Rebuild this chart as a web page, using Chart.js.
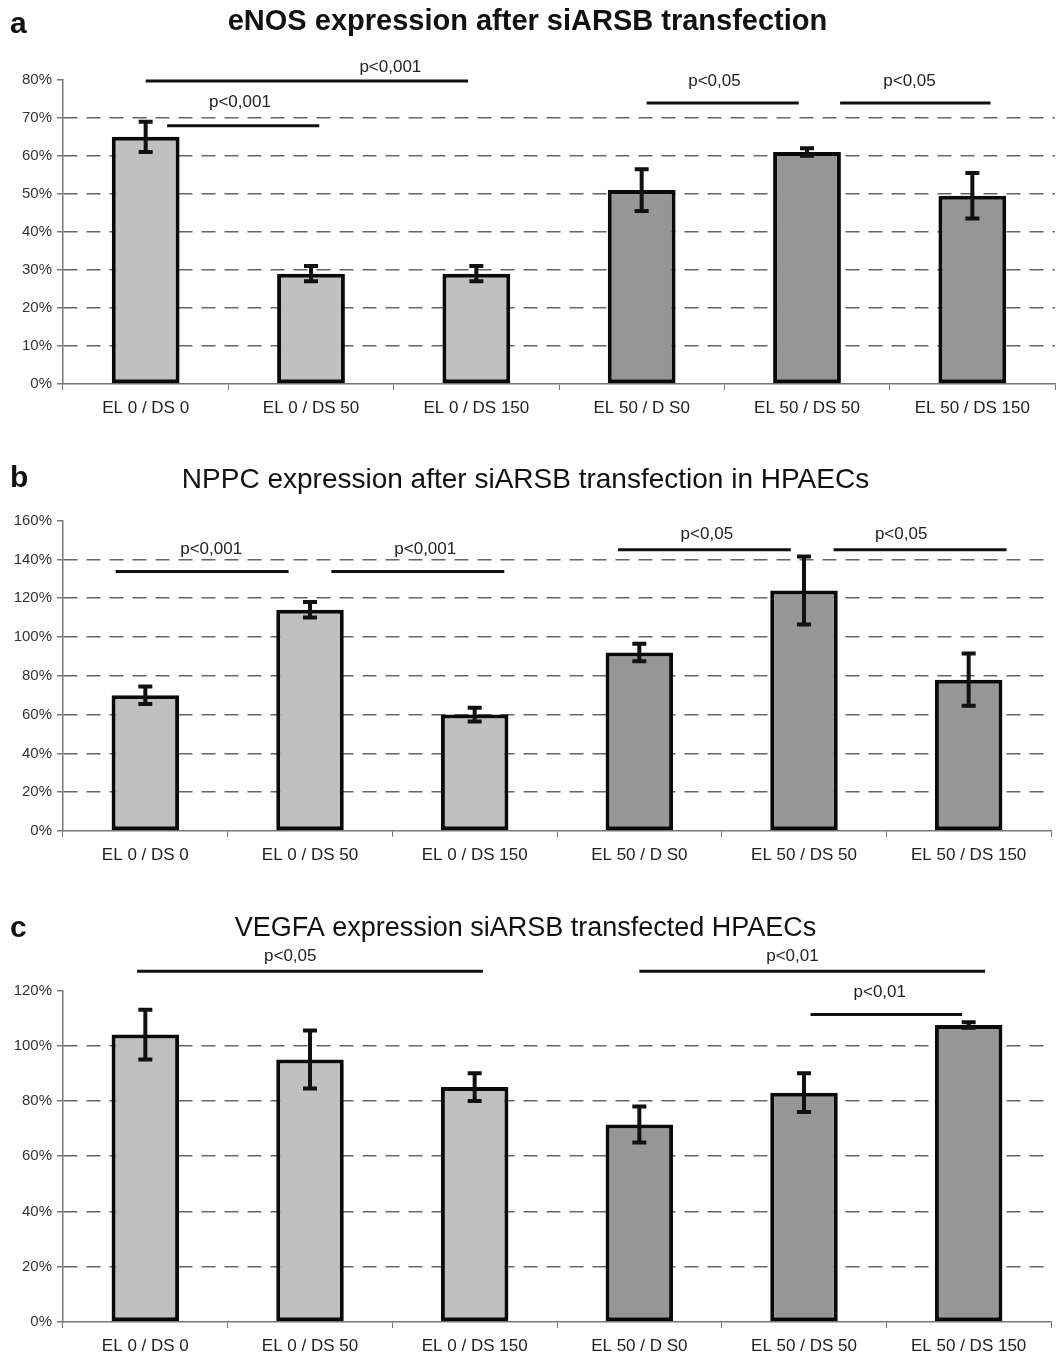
<!DOCTYPE html>
<html>
<head>
<meta charset="utf-8">
<script src="https://cdn.jsdelivr.net/npm/chart.js@4.4.1/dist/chart.umd.min.js"></script>
<style>
    body { margin: 0; background: #fff; }
    canvas { display: block; }
</style>
</head>
<body>
<canvas id="enosChart" width="1060" height="445"></canvas>
<canvas id="nppcChart" width="1060" height="448"></canvas>
<canvas id="vegfaChart" width="1060" height="463"></canvas>
<script>
// Categories shared by all three panels
const categories = ['EL 0 / DS 0', 'EL 0 / DS 50', 'EL 0 / DS 150', 'EL 50 / D S0', 'EL 50 / DS 50', 'EL 50 / DS 150'];

// Panel a - eNOS
const enosValues = [65, 29, 29, 51, 61, 49.5];
const enosErrors = [4, 2, 2, 5.5, 1, 6];
const enosTicks = { max: 80, step: 10 };
const enosSig = [
    { from: 0, to: 1.95, y: 79.7, text: 'p<0,001', textX: 1.48, textY: 83.4 },
    { from: 0.13, to: 1.05, y: 67.9, text: 'p<0,001', textX: 0.57, textY: 74.2 },
    { from: 3.03, to: 3.95, y: 73.9, text: 'p<0,05', textX: 3.44, textY: 79.7 },
    { from: 4.2, to: 5.11, y: 73.9, text: 'p<0,05', textX: 4.62, textY: 79.7 }
];

// Panel b - NPPC
const nppcValues = [70, 114, 60, 92, 124, 78];
const nppcErrors = [4.5, 4, 3.5, 4.5, 17.5, 13.5];
const nppcTicks = { max: 160, step: 20 };
const nppcSig = [
    { from: -0.18, to: 0.87, y: 133.7, text: 'p<0,001', textX: 0.4, textY: 145 },
    { from: 1.13, to: 2.18, y: 133.7, text: 'p<0,001', textX: 1.7, textY: 145 },
    { from: 2.87, to: 3.92, y: 145, text: 'p<0,05', textX: 3.41, textY: 152.8 },
    { from: 4.18, to: 5.23, y: 145, text: 'p<0,05', textX: 4.59, textY: 152.8 }
];

// Panel c - VEGFA
const vegfaValues = [104, 95, 85, 71.5, 83, 107.5];
const vegfaErrors = [9, 10.5, 5, 6.5, 7, 1];
const vegfaTicks = { max: 120, step: 20 };
const vegfaSig = [
    { from: -0.05, to: 2.05, y: 126.9, text: 'p<0,05', textX: 0.88, textY: 132.3 },
    { from: 3.0, to: 5.1, y: 126.9, text: 'p<0,01', textX: 3.93, textY: 132.3 },
    { from: 4.04, to: 4.96, y: 111.3, text: 'p<0,01', textX: 4.46, textY: 119.3 }
];

const FONT = "'Liberation Sans', Arial, Helvetica, sans-serif";

// Draws error bars, significance brackets and the panel letter
const extrasPlugin = {
    id: 'extras',
    afterDatasetsDraw(chart, args, opts) {
        const ctx = chart.ctx;
        const xs = chart.scales.x;
        const ys = chart.scales.y;
        const values = chart.data.datasets[0].data;
        const meta = chart.getDatasetMeta(0);

        ctx.save();
        // error bars
        ctx.strokeStyle = '#111';
        ctx.lineWidth = 4;
        meta.data.forEach((bar, i) => {
            const top = ys.getPixelForValue(values[i] + opts.errors[i]);
            const bot = ys.getPixelForValue(values[i] - opts.errors[i]);
            ctx.beginPath();
            ctx.moveTo(bar.x, top);
            ctx.lineTo(bar.x, bot);
            ctx.moveTo(bar.x - 7, top);
            ctx.lineTo(bar.x + 7, top);
            ctx.moveTo(bar.x - 7, bot);
            ctx.lineTo(bar.x + 7, bot);
            ctx.stroke();
        });

        // significance lines
        const x0 = xs.getPixelForValue(0);
        const step = xs.getPixelForValue(1) - x0;
        const catX = v => x0 + v * step;
        ctx.lineWidth = 3;
        ctx.fillStyle = '#222';
        ctx.font = '17px ' + FONT;
        ctx.textAlign = 'center';
        ctx.textBaseline = 'middle';
        opts.sig.forEach(s => {
            const py = ys.getPixelForValue(s.y);
            ctx.beginPath();
            ctx.moveTo(catX(s.from), py);
            ctx.lineTo(catX(s.to), py);
            ctx.stroke();
            ctx.fillText(s.text, catX(s.textX), ys.getPixelForValue(s.textY));
        });

        // panel letter
        ctx.fillStyle = '#111';
        ctx.font = 'bold 30px ' + FONT;
        ctx.textAlign = 'left';
        ctx.textBaseline = 'alphabetic';
        ctx.fillText(opts.letter, 10, opts.letterY);
        ctx.restore();
    }
};

function createPanel(id, cfg) {
    const ctx = document.getElementById(id).getContext('2d');
    const colors = categories.map(c => c.startsWith('EL 0') ? '#c0c0c0' : '#969696');

    new Chart(ctx, {
        type: 'bar',
        data: {
            labels: categories,
            datasets: [{
                data: cfg.values,
                backgroundColor: colors,
                borderColor: '#0a0a0a',
                borderWidth: 4,
                borderSkipped: false,
                barPercentage: 0.41,
                categoryPercentage: 1
            }]
        },
        plugins: [extrasPlugin],
        options: {
            responsive: false,
            animation: false,
            devicePixelRatio: 1,
            layout: {
                padding: { left: 0, right: cfg.padRight, top: 0, bottom: cfg.padBottom }
            },
            plugins: {
                legend: { display: false },
                tooltip: { enabled: false },
                title: {
                    display: true,
                    text: cfg.title,
                    color: '#111',
                    font: { family: FONT, size: cfg.titleSize, weight: cfg.titleWeight },
                    padding: { top: cfg.titleTop, bottom: cfg.titleBottom }
                },
                extras: {
                    errors: cfg.errors,
                    sig: cfg.sig,
                    letter: cfg.letter,
                    letterY: cfg.letterY
                }
            },
            scales: {
                x: {
                    afterFit: scale => { scale.height = 33; },
                    grid: {
                        offset: true,
                        drawOnChartArea: false,
                        drawTicks: true,
                        tickLength: 6,
                        color: '#777'
                    },
                    border: { color: '#777', width: 1.5 },
                    ticks: {
                        color: '#222',
                        padding: 8,
                        font: { family: FONT, size: 17 }
                    }
                },
                y: {
                    min: 0,
                    max: cfg.ticks.max,
                    afterFit: scale => { scale.width = 63; },
                    grid: {
                        color: c => (c.tick.value === 0 || c.tick.value === cfg.ticks.max) ? 'rgba(0,0,0,0)' : '#666',
                        lineWidth: 1.5,
                        tickColor: '#777',
                        tickLength: 6
                    },
                    border: { color: '#777', width: 1.5, dash: [14, 9] },
                    ticks: {
                        stepSize: cfg.ticks.step,
                        color: '#333',
                        padding: 5,
                        font: { family: FONT, size: 15 },
                        callback: v => v + '%'
                    }
                }
            }
        }
    });
}

createPanel('enosChart', {
    title: 'eNOS expression after siARSB transfection',
    titleSize: 29, titleWeight: 'bold', titleTop: 5, titleBottom: 40,
    values: enosValues, errors: enosErrors, ticks: enosTicks, sig: enosSig,
    letter: 'a', letterY: 33, padRight: 5, padBottom: 28
});

createPanel('nppcChart', {
    title: 'NPPC expression after siARSB transfection in HPAECs',
    titleSize: 28, titleWeight: 'normal', titleTop: 18, titleBottom: 24,
    values: nppcValues, errors: nppcErrors, ticks: nppcTicks, sig: nppcSig,
    letter: 'b', letterY: 42, padRight: 9, padBottom: 29
});

createPanel('vegfaChart', {
    title: 'VEGFA expression siARSB transfected HPAECs',
    titleSize: 27, titleWeight: 'normal', titleTop: 19, titleBottom: 46,
    values: vegfaValues, errors: vegfaErrors, ticks: vegfaTicks, sig: vegfaSig,
    letter: 'c', letterY: 44, padRight: 9, padBottom: 1
});
</script>
</body>
</html>
